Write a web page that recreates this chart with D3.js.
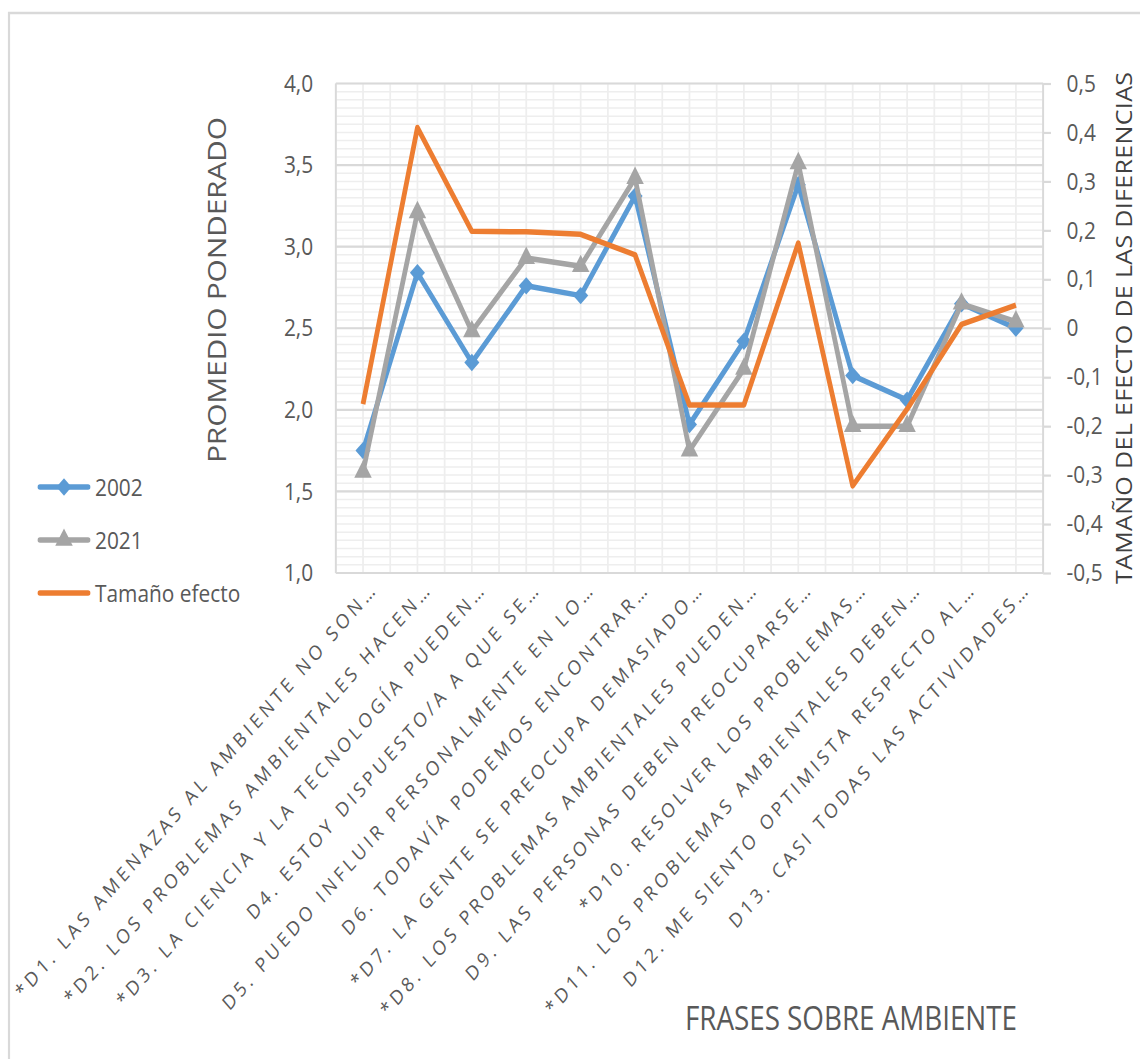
<!DOCTYPE html>
<html>
<head>
<meta charset="utf-8">
<script src="https://cdn.jsdelivr.net/npm/d3@7"></script>
<style>
  body { margin: 0; background: #fff; }
  text { font-family: "Open Sans", "DejaVu Sans", sans-serif; }
</style>
</head>
<body>
<div id="vis"></div>
<script>
// phrases about the environment (x axis)
const categories = [
  "*D1. LAS AMENAZAS AL AMBIENTE NO SON…",
  "*D2. LOS PROBLEMAS AMBIENTALES HACEN…",
  "*D3. LA CIENCIA Y LA TECNOLOGÍA PUEDEN…",
  "D4. ESTOY DISPUESTO/A A QUE SE…",
  "D5. PUEDO INFLUIR PERSONALMENTE EN LO…",
  "D6. TODAVÍA PODEMOS ENCONTRAR…",
  "*D7. LA GENTE SE PREOCUPA DEMASIADO…",
  "*D8. LOS PROBLEMAS AMBIENTALES PUEDEN…",
  "D9. LAS PERSONAS DEBEN PREOCUPARSE…",
  "*D10. RESOLVER LOS PROBLEMAS…",
  "*D11. LOS PROBLEMAS AMBIENTALES DEBEN…",
  "D12. ME SIENTO OPTIMISTA RESPECTO AL…",
  "D13. CASI TODAS LAS ACTIVIDADES…"
]

// weighted means (left axis)
const values2002 = [1.75, 2.84, 2.29, 2.76, 2.70, 3.31, 1.91, 2.42, 3.38, 2.21, 2.06, 2.65, 2.50]
const values2021 = [1.62, 3.21, 2.48, 2.93, 2.88, 3.42, 1.75, 2.25, 3.51, 1.90, 1.90, 2.65, 2.54]
// effect size (right axis)
const effectSize = [-0.155, 0.41, 0.198, 0.197, 0.192, 0.15, -0.157, -0.157, 0.174, -0.322, -0.165, 0.008, 0.047]

const leftTicks = [1, 1.5, 2, 2.5, 3, 3.5, 4]
const rightTicks = [-0.5, -0.4, -0.3, -0.2, -0.1, 0, 0.1, 0.2, 0.3, 0.4, 0.5]

const legendNames = ["2002", "2021", "Tamaño efecto"]

// the picture is squeezed horizontally, so everything is drawn in a wider space and scaled
const k = 0.87
const width = 1140
const height = 1059

const plotLeft = 386
const plotRight = 1199
const plotTop = 83.5
const plotBottom = 573

const blue = "#5B9BD5"
const grey = "#A5A5A5"
const orange = "#ED7D31"
const textColor = "#595959"

const svg = d3.select("#vis")
  .append("svg")
  .attr("width", width)
  .attr("height", height)

const g = svg.append("g").attr("transform", `scale(${k},1)`)

// outer frame
g.append("rect")
  .attr("x", 9 / k).attr("y", 13)
  .attr("width", 1200 / k).attr("height", 1100)
  .attr("fill", "none")
  .attr("stroke", "#d9d9d9")
  .attr("stroke-width", 2.5)

const x = d3.scalePoint()
  .domain(categories)
  .range([plotLeft, plotRight])
  .padding(0.5)

const yLeft = d3.scaleLinear().domain([1, 4]).range([plotBottom, plotTop])
const yRight = d3.scaleLinear().domain([-0.5, 0.5]).range([plotBottom, plotTop])

//gridlines
const grid = g.append("g")
const half = x.step() / 2
const vLines = d3.range(0, categories.length * 2 + 1).map(i => plotLeft + i * half)
grid.selectAll(".vgrid")
  .data(vLines)
  .enter().append("line")
  .attr("x1", d => d).attr("x2", d => d)
  .attr("y1", plotTop).attr("y2", plotBottom)
  .attr("stroke", "#eeeeee").attr("stroke-width", 2)

grid.selectAll(".minor")
  .data(yLeft.ticks(60))
  .enter().append("line")
  .attr("x1", plotLeft).attr("x2", plotRight)
  .attr("y1", d => yLeft(d)).attr("y2", d => yLeft(d))
  .attr("stroke", "#eeeeee").attr("stroke-width", 1.5)

grid.selectAll(".major")
  .data(leftTicks)
  .enter().append("line")
  .attr("x1", plotLeft).attr("x2", plotRight)
  .attr("y1", d => yLeft(d)).attr("y2", d => yLeft(d))
  .attr("stroke", "#d9d9d9").attr("stroke-width", 2.2)

// plot border left / right
grid.append("line").attr("x1", plotLeft).attr("x2", plotLeft).attr("y1", plotTop).attr("y2", plotBottom)
  .attr("stroke", "#d9d9d9").attr("stroke-width", 2.2)
grid.append("line").attr("x1", plotRight).attr("x2", plotRight).attr("y1", plotTop).attr("y2", plotBottom)
  .attr("stroke", "#d9d9d9").attr("stroke-width", 2.2)

// left axis
const fmt = d => d === 0 ? "0" : d3.format(".1f")(d).replace(".", ",").replace("−", "-")
const leftAxis = g.append("g")
  .attr("transform", `translate(${plotLeft},0)`)
  .call(d3.axisLeft(yLeft).tickValues(leftTicks).tickSize(0).tickPadding(26).tickFormat(fmt))
leftAxis.select(".domain").remove()
leftAxis.selectAll("text").attr("font-size", 24).attr("fill", textColor)
  .attr("font-family", "Open Sans")

// right axis
const rightAxis = g.append("g")
  .attr("transform", `translate(${plotRight},0)`)
  .call(d3.axisRight(yRight).tickValues(rightTicks).tickSize(9).tickPadding(18).tickFormat(fmt))
rightAxis.select(".domain").remove()
rightAxis.selectAll("line").attr("stroke", "#d9d9d9").attr("stroke-width", 2.2)
rightAxis.selectAll("text").attr("font-size", 24).attr("fill", textColor)
  .attr("font-family", "Open Sans")

// category labels
g.selectAll(".xlabel")
  .data(categories)
  .enter().append("text")
  .attr("transform", d => `translate(${x(d) + 18},590) rotate(-45)`)
  .attr("text-anchor", "end")
  .attr("font-size", 20)
  .attr("letter-spacing", 4.3)
  .attr("fill", textColor)
  .text(d => d)

// axis titles
g.append("text")
  .attr("transform", `translate(${249},290) rotate(-90)`)
  .attr("text-anchor", "middle")
  .attr("dy", "0.357em")
  .attr("font-size", 30)
  .attr("fill", textColor)
  .attr("textLength", 346)
  .text("PROMEDIO PONDERADO")

g.append("text")
  .attr("transform", `translate(${1124 / k},328) rotate(-90)`)
  .attr("text-anchor", "middle")
  .attr("dy", "0.357em")
  .attr("font-size", 25)
  .attr("fill", "#404040")
  .attr("textLength", 512)
  .text("TAMAÑO DEL EFECTO DE LAS DIFERENCIAS")

g.append("text")
  .attr("x", 851 / k)
  .attr("y", 1030)
  .attr("text-anchor", "middle")
  .attr("font-size", 32)
  .attr("fill", textColor)
  .attr("textLength", 332 / k)
  .text("FRASES SOBRE AMBIENTE")

// series
const lineLeft = d3.line()
  .x((d, i) => x(categories[i]))
  .y(d => yLeft(d))
const lineRight = d3.line()
  .x((d, i) => x(categories[i]))
  .y(d => yRight(d))

const diamond = d3.symbol().type(d3.symbolSquare).size(150)
const triangle = d3.symbol().type(d3.symbolTriangle).size(175)

g.append("path")
  .attr("d", lineLeft(values2002))
  .attr("fill", "none").attr("stroke", blue).attr("stroke-width", 5.5)
  .attr("stroke-linejoin", "round")
g.selectAll(".m2002")
  .data(values2002)
  .enter().append("path")
  .attr("d", diamond)
  .attr("transform", (d, i) => `translate(${x(categories[i])},${yLeft(d)}) rotate(45)`)
  .attr("fill", blue)

g.append("path")
  .attr("d", lineLeft(values2021))
  .attr("fill", "none").attr("stroke", grey).attr("stroke-width", 5.5)
  .attr("stroke-linejoin", "round")
g.selectAll(".m2021")
  .data(values2021)
  .enter().append("path")
  .attr("d", triangle)
  .attr("transform", (d, i) => `translate(${x(categories[i])},${yLeft(d)})`)
  .attr("fill", grey)

g.append("path")
  .attr("d", lineRight(effectSize))
  .attr("fill", "none").attr("stroke", orange).attr("stroke-width", 5.5)
  .attr("stroke-linejoin", "round")

// legend
const legendY = [487, 540, 593]
const legendColors = [blue, grey, orange]
const legend = g.selectAll(".legend")
  .data(legendNames)
  .enter().append("g")
  .attr("transform", (d, i) => `translate(0,${legendY[i]})`)
legend.append("line")
  .attr("x1", 40 / k).attr("x2", 88 / k)
  .attr("stroke", (d, i) => legendColors[i])
  .attr("stroke-width", 5.5)
  .attr("stroke-linecap", "round")
legend.filter((d, i) => i === 0).append("path")
  .attr("d", diamond)
  .attr("transform", `translate(${64 / k},0) rotate(45)`)
  .attr("fill", blue)
legend.filter((d, i) => i === 1).append("path")
  .attr("d", triangle)
  .attr("transform", `translate(${64 / k},0)`)
  .attr("fill", grey)
legend.append("text")
  .attr("x", 95 / k)
  .attr("dy", "0.36em")
  .attr("font-size", 24)
  .attr("fill", textColor)
  .text(d => d)
</script>
</body>
</html>
